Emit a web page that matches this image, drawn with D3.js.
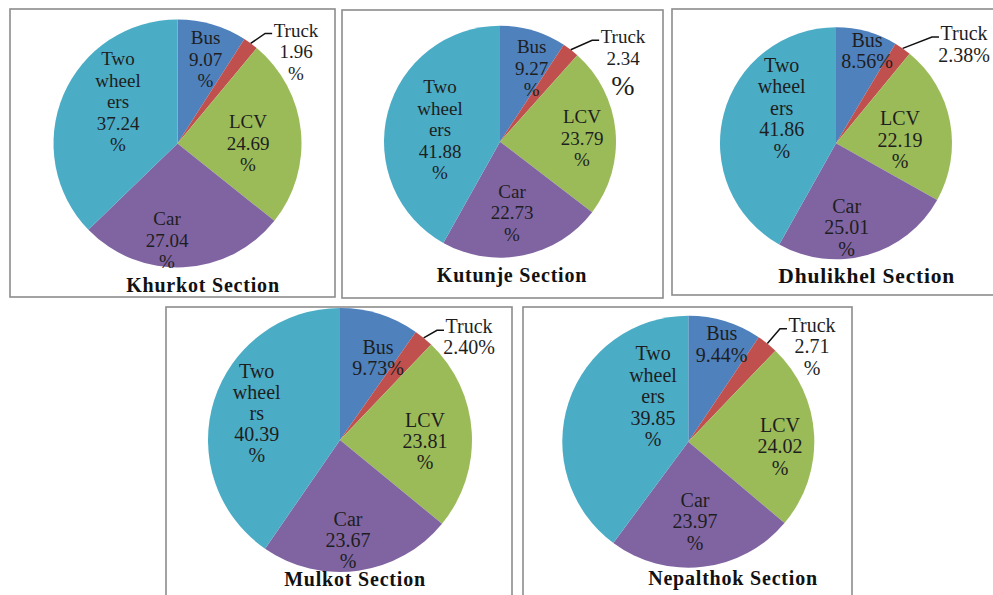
<!DOCTYPE html>
<html>
<head>
<meta charset="utf-8">
<script src="https://cdn.jsdelivr.net/npm/d3@7/dist/d3.min.js"></script>
<style>
  html, body { margin: 0; padding: 0; background: #ffffff; }
  svg { display: block; }
  text { font-family: 'Liberation Serif', 'Times New Roman', serif; }
</style>
</head>
<body>
<svg id="chart" width="993" height="595"></svg>
<script>
// Vehicle composition (%) by road section
const categories = ["Bus", "Truck", "LCV", "Car", "Two wheelers"];
const sectionNames = ["Khurkot Section", "Kutunje Section", "Dhulikhel Section", "Mulkot Section", "Nepalthok Section"];
const khurkotShares   = [9.07, 1.96, 24.69, 27.04, 37.24];
const kutunjeShares   = [9.27, 2.34, 23.79, 22.73, 41.88];
const dhulikhelShares = [8.56, 2.38, 22.19, 25.01, 41.86];
const mulkotShares    = [9.73, 2.40, 23.81, 23.67, 40.39];
const nepalthokShares = [9.44, 2.71, 24.02, 23.97, 39.85];
const sectionShares = [khurkotShares, kutunjeShares, dhulikhelShares, mulkotShares, nepalthokShares];

const sliceColors = ["#4F81BD", "#C0504D", "#9BBB59", "#8064A2", "#4BACC6"];

// Panel frames, pie geometry and label placement (offsets from the pie centre).
// "{v}" in a line is replaced by the slice value.
const panelLayout = [
  { box: [10, 9, 325, 288], cx: 177.5, cy: 143.5, r: 124, font: 19, lh: 21.5,
    title: { dx: 25.5, dy: 148.5, size: 20 },
    labels: [
      { dx: 28,    dy: -99.5, lines: ["Bus", "{v}", "%"] },
      { dx: 118.5, dy: -107,  lines: ["Truck", "{v}", "%"], leader: true },
      { dx: 70.5,  dy: -15.5, lines: ["LCV", "{v}", "%"] },
      { dx: -10.5, dy: 81.5,  lines: ["Car", "{v}", "%"] },
      { dx: -59.5, dy: -78.5, lines: ["Two", "wheel", "ers", "{v}", "%"] }
    ] },
  { box: [342, 10, 321, 288], cx: 500, cy: 141.7, r: 116, font: 19, lh: 21.5,
    title: { dx: 12, dy: 140.3, size: 20 },
    labels: [
      { dx: 31.7, dy: -88.4, lines: ["Bus", "{v}", "%"] },
      { dx: 123,  dy: -98.4, lines: ["Truck", "{v}", "%"], leader: true, bigLast: 28 },
      { dx: 82,   dy: -18.7, lines: ["LCV", "{v}", "%"] },
      { dx: 12,   dy: 56.3,  lines: ["Car", "{v}", "%"] },
      { dx: -60,  dy: -48.7, lines: ["Two", "wheel", "ers", "{v}", "%"] }
    ] },
  { box: [672, 9, 340, 286], cx: 836, cy: 143.3, r: 116, font: 20, lh: 21.5,
    title: { dx: 30.7, dy: 139.7, size: 21.5 },
    labels: [
      { dx: 31,    dy: -96.6, lines: ["Bus", "{v}%"] },
      { dx: 128,   dy: -103.3, lines: ["Truck", "{v}%"], leader: true },
      { dx: 64,    dy: -18.3, lines: ["LCV", "{v}", "%"] },
      { dx: 10.7,  dy: 69.7,  lines: ["Car", "{v}", "%"] },
      { dx: -54.3, dy: -71.6, lines: ["Two", "wheel", "ers", "{v}", "%"] }
    ] },
  { box: [166, 307, 346, 300], cx: 340, cy: 440, r: 132, font: 20, lh: 21,
    title: { dx: 15, dy: 145.5, size: 20 },
    labels: [
      { dx: 38,    dy: -86,   lines: ["Bus", "{v}%"] },
      { dx: 129,   dy: -106.7, lines: ["Truck", "{v}%"], leader: true },
      { dx: 85,    dy: -13.3, lines: ["LCV", "{v}", "%"] },
      { dx: 8,     dy: 86,    lines: ["Car", "{v}", "%"] },
      { dx: -83.3, dy: -62,   lines: ["Two", "wheel", "rs", "{v}", "%"] }
    ] },
  { box: [523, 307, 329, 300], cx: 688.3, cy: 441.7, r: 126, font: 20, lh: 21.5,
    title: { dx: 44.7, dy: 143.3, size: 20 },
    labels: [
      { dx: 33.4,  dy: -101.7, lines: ["Bus", "{v}%"] },
      { dx: 123.7, dy: -110,  lines: ["Truck", "{v}", "%"], leader: true },
      { dx: 91.7,  dy: -10,   lines: ["LCV", "{v}", "%"] },
      { dx: 6.7,   dy: 65,    lines: ["Car", "{v}", "%"] },
      { dx: -35.3, dy: -81.7, lines: ["Two", "wheel", "ers", "{v}", "%"] }
    ] }
];

const svg = d3.select("#chart");
const serif = "'Liberation Serif', 'Times New Roman', serif";
const textColor = "#1e1e1e";

const pie = d3.pie().sort(null).value(d => d.value).startAngle(0).endAngle(2 * Math.PI);

sectionShares.forEach((shares, i) => {
  const L = panelLayout[i];
  const g = svg.append("g").attr("class", "panel");

  // frame
  g.append("rect")
    .attr("x", L.box[0]).attr("y", L.box[1])
    .attr("width", L.box[2]).attr("height", L.box[3])
    .attr("fill", "none").attr("stroke", "#8c8c8c").attr("stroke-width", 1.6);

  const data = categories.map((c, k) => ({ name: c, value: shares[k], color: sliceColors[k] }));
  const arcs = pie(data);
  const arc = d3.arc().innerRadius(0).outerRadius(L.r);

  const pg = g.append("g").attr("transform", `translate(${L.cx},${L.cy})`);
  pg.selectAll("path.slice")
    .data(arcs)
    .join("path")
    .attr("class", "slice")
    .attr("d", arc)
    .attr("fill", d => d.data.color);

  // data labels
  arcs.forEach((a, k) => {
    const spec = L.labels[k];
    const valText = a.data.value.toFixed(2);
    const lines = spec.lines.map(s => s.replace("{v}", valText));
    const texts = lines.map((line, j) => {
      const isBig = spec.bigLast && j === lines.length - 1;
      return pg.append("text")
        .attr("x", spec.dx)
        .attr("y", spec.dy + j * L.lh + (isBig ? 9 : 0))
        .attr("text-anchor", "middle")
        .attr("font-family", serif)
        .attr("font-size", isBig ? spec.bigLast : L.font)
        .attr("fill", textColor)
        .text(line);
    });

    if (spec.leader) {
      const mid = (a.startAngle + a.endAngle) / 2;
      const sx = L.r * Math.sin(mid), sy = -L.r * Math.cos(mid);
      const w = texts[0].node().getComputedTextLength();
      const ex = spec.dx - w / 2 - 1.5;
      const ey = spec.dy - 3;
      const line = d3.line();
      pg.append("path")
        .attr("d", line([[sx, sy], [ex - 7, ey], [ex, ey]]))
        .attr("fill", "none")
        .attr("stroke", "#111")
        .attr("stroke-width", 1.5);
    }
  });

  // section title
  pg.append("text")
    .attr("x", L.title.dx)
    .attr("y", L.title.dy)
    .attr("text-anchor", "middle")
    .attr("font-family", serif)
    .attr("font-weight", "bold")
    .attr("font-size", L.title.size)
    .attr("letter-spacing", "0.8px")
    .attr("fill", "#111")
    .text(sectionNames[i]);
});
</script>
</body>
</html>
